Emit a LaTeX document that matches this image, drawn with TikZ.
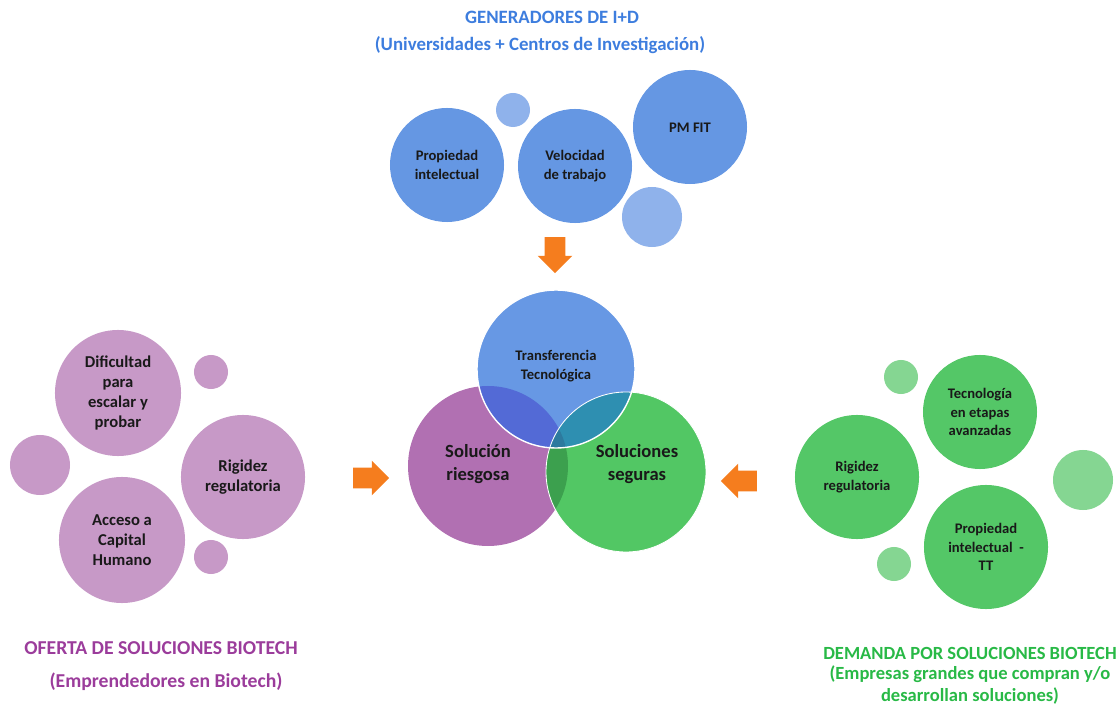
\documentclass[tikz,border=0pt]{standalone}
\usepackage{fontspec}
\setmainfont{Carlito}
\usetikzlibrary{shapes.arrows}
\definecolor{TopBlue}{RGB}{101,151,227}
\definecolor{TopLight}{RGB}{143,178,235}
\definecolor{LeftPurple}{RGB}{199,153,199}
\definecolor{RightGreen}{RGB}{84,199,103}
\definecolor{RightLight}{RGB}{133,214,146}
\definecolor{VennBlue}{RGB}{103,152,228}
\definecolor{VennPurple}{RGB}{177,112,178}
\definecolor{VennGreen}{RGB}{82,199,100}
\definecolor{BluePurple}{RGB}{83,106,214}
\definecolor{BlueGreen}{RGB}{46,143,177}
\definecolor{PurpleGreen}{RGB}{60,160,78}
\definecolor{TripleMix}{RGB}{45,122,158}
\definecolor{TitleBlue}{RGB}{61,125,222}
\definecolor{TitlePurple}{RGB}{155,60,155}
\definecolor{TitleGreen}{RGB}{40,185,70}
\definecolor{ArrowOrange}{RGB}{245,125,30}
\definecolor{TextDark}{RGB}{25,25,25}

\begin{document}
\begin{tikzpicture}[x=0.025cm, y=-0.025cm,
    bubble/.style={circle, inner sep=0pt, minimum size=#1, align=center, text=TextDark},
    smalltxt/.style={font=\fontsize{10.4}{13}\selectfont\bfseries},
    midtxt/.style={font=\fontsize{11.8}{14}\selectfont\bfseries},
    bigtxt/.style={font=\fontsize{13.2}{16.5}\selectfont\bfseries},
    titletxt/.style={font=\fontsize{#1}{16}\selectfont\bfseries, align=center},
    titletxt/.default=13.4,
    blockarrow/.style={single arrow, fill=ArrowOrange, inner sep=0pt, minimum width=0.85cm,
      minimum height=0.9cm, single arrow head extend=0.175cm, text width=0pt, text height=0.5cm}]
    \useasboundingbox (0,0) rectangle (1120,715);

    % Top group: I+D generators
    \node[titletxt, text=TitleBlue] (topTitle) at (552,17) {GENERADORES DE I+D};
    \node[titletxt, text=TitleBlue] (topSub) at (540,45) {(Universidades + Centros de Investigación)};
    \node[bubble=0.85cm, fill=TopLight] (topDotA) at (513,110) {};
    \node[bubble=1.5cm, fill=TopLight] (topDotB) at (652,217) {};
    \node[bubble=2.85cm, fill=TopBlue, smalltxt] (topProp) at (447,165) {Propiedad\\intelectual};
    \node[bubble=2.85cm, fill=TopBlue, smalltxt] (topVel) at (575,166) {Velocidad\\de trabajo};
    \node[bubble=2.85cm, fill=TopBlue] (topPM) at (690,127) {};
    \node[smalltxt, text=TextDark] (topPMtxt) at (690,128) {PM FIT};

    % Left group: supply
    \node[bubble=0.85cm, fill=LeftPurple] (leftDotA) at (211,372) {};
    \node[bubble=0.85cm, fill=LeftPurple] (leftDotB) at (211,557) {};
    \node[bubble=1.5cm, fill=LeftPurple] (leftDotC) at (40,465) {};
    \node[bubble=3.15cm, fill=LeftPurple, midtxt] (leftDif) at (118,393) {Dificultad\\para\\escalar y\\probar};
    \node[bubble=3.1cm, fill=LeftPurple, midtxt] (leftRig) at (243,477) {Rigidez\\regulatoria};
    \node[bubble=3.15cm, fill=LeftPurple, midtxt] (leftAcc) at (122,540) {Acceso a\\Capital\\Humano};
    \node[titletxt=14, text=TitlePurple] (leftTitle) at (161,648) {OFERTA DE SOLUCIONES BIOTECH};
    \node[titletxt=14, text=TitlePurple] (leftSub) at (166,682) {(Emprendedores en Biotech)};

    % Right group: demand
    \node[bubble=0.85cm, fill=RightLight] (rightDotA) at (901,377) {};
    \node[bubble=0.85cm, fill=RightLight] (rightDotB) at (894,564) {};
    \node[bubble=1.5cm, fill=RightLight] (rightDotC) at (1083,480) {};
    \node[bubble=2.85cm, fill=RightGreen, smalltxt] (rightTec) at (980,412) {Tecnología\\en etapas\\avanzadas};
    \node[bubble=3.1cm, fill=RightGreen, smalltxt] (rightRig) at (857,477) {Rigidez\\regulatoria};
    \node[bubble=3.1cm, fill=RightGreen, smalltxt] (rightProp) at (986,547) {Propiedad\\intelectual~~-\\TT};
    \node[titletxt=13.2, text=TitleGreen] (rightTitle) at (970,653) {DEMANDA POR SOLUCIONES BIOTECH};
    \node[titletxt=13.2, text=TitleGreen] (rightSub) at (970,685) {(Empresas grandes que compran y/o\\desarrollan soluciones)};

    % Venn in the middle
    \coordinate (cPurple) at (488,466);
    \coordinate (cGreen) at (626,472);
    \coordinate (cBlue) at (556,369);
    \fill[VennPurple] (cPurple) circle[radius=80];
    \fill[VennGreen] (cGreen) circle[radius=80];
    \fill[VennBlue] (cBlue) circle[radius=79];
    \begin{scope}
      \clip (cPurple) circle[radius=80];
      \fill[PurpleGreen] (cGreen) circle[radius=80];
      \fill[BluePurple] (cBlue) circle[radius=79];
      \clip (cGreen) circle[radius=80];
      \fill[TripleMix] (cBlue) circle[radius=79];
    \end{scope}
    \begin{scope}
      \clip (cGreen) circle[radius=80];
      \clip (cBlue) circle[radius=79];
      \fill[BlueGreen] (cBlue) circle[radius=79];
      \clip (cPurple) circle[radius=80];
      \fill[TripleMix] (cBlue) circle[radius=79];
    \end{scope}
    \draw[white, line width=0.6pt] (cGreen) circle[radius=80];
    \draw[white, line width=1pt] (cBlue) circle[radius=79];
    \node[smalltxt, align=center, text=TextDark] (vennBlue) at (556,366) {Transferencia\\Tecnológica};
    \node[bigtxt, align=center, text=TextDark] (vennPurple) at (478,464) {Solución\\riesgosa};
    \node[bigtxt, align=center, text=TextDark] (vennGreen) at (637,464) {Soluciones\\seguras};

    % Arrows into the Venn
    \node[blockarrow, rotate=-90] (arrTop) at (555,250) {};
    \node[blockarrow] (arrLeft) at (366,478) {};
    \node[blockarrow, rotate=180] (arrRight) at (744,481) {};
\end{tikzpicture}
\end{document}
